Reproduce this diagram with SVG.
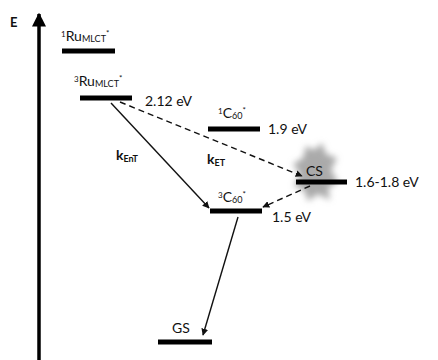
<svg xmlns="http://www.w3.org/2000/svg" width="438" height="360" viewBox="0 0 438 360">
<style>
text{font-family:Lato,"Open Sans","Liberation Sans",sans-serif;fill:#111}
.lbl{font-size:14px}
.val{font-size:14px}
.sub{font-size:9px}
.sup{font-size:8px}
.bar{stroke:#000;stroke-width:5}
.solid{stroke:#111;stroke-width:1.4;fill:none}
.dash{stroke:#111;stroke-width:1.4;fill:none;stroke-dasharray:6 4}
</style>
<defs>
<marker id="ah" viewBox="0 0 10 10" refX="9" refY="5" markerWidth="7" markerHeight="7" markerUnits="userSpaceOnUse" orient="auto"><path d="M0,0 L10,5 L0,10 z" fill="#111"/></marker>
<marker id="axh" viewBox="0 0 10 10" refX="9" refY="5" markerWidth="14" markerHeight="14" markerUnits="userSpaceOnUse" orient="auto"><path d="M0,0 L10,5 L0,10 z" fill="#000"/></marker>
<filter id="blur" x="-50%" y="-50%" width="200%" height="200%"><feGaussianBlur stdDeviation="3"/></filter>
</defs>
<rect width="438" height="360" fill="#fff"/>
<g id="axis">
<line x1="39" y1="360" x2="39" y2="14" stroke="#000" stroke-width="3.5" marker-end="url(#axh)"/>
<text x="10" y="27" style="font-size:13px;font-weight:bold">E</text>
</g>
<g id="blob">
<path d="M306,146 L314,150 L322,143 L326,154 L337,158 L331,170 L338,182 L328,188 L330,200 L318,194 L308,201 L304,190 L294,186 L300,174 L293,164 L303,158 Z" fill="#aaa" filter="url(#blur)"/>
</g>
<g id="connectors">
<line class="solid" x1="111" y1="103" x2="209" y2="208" marker-end="url(#ah)"/>
<line class="dash" x1="120" y1="102" x2="302" y2="176" marker-end="url(#ah)"/>
<line class="dash" x1="310" y1="186" x2="263" y2="207" marker-end="url(#ah)"/>
<line class="solid" x1="238" y1="217" x2="203" y2="335" marker-end="url(#ah)"/>
<text x="116" y="160" class="lbl" style="font-weight:bold">k<tspan class="sub" dy="2">EnT</tspan></text>
<text x="207" y="164" class="lbl" style="font-weight:bold">k<tspan class="sub" dy="2">ET</tspan></text>
</g>
<g id="ru1">
<line class="bar" x1="62" y1="51" x2="115" y2="51"/>
<text x="61" y="41" class="lbl"><tspan class="sup" dy="-4">1</tspan><tspan dy="4">Ru</tspan><tspan class="sub" dy="1">MLCT</tspan><tspan class="sup" dy="-6">*</tspan></text>
</g>
<g id="ru3">
<line class="bar" x1="80" y1="98" x2="132" y2="98"/>
<text x="74" y="86" class="lbl"><tspan class="sup" dy="-4">3</tspan><tspan dy="4">Ru</tspan><tspan class="sub" dy="1">MLCT</tspan><tspan class="sup" dy="-6">*</tspan></text>
<text x="145" y="106" class="val">2.12 eV</text>
</g>
<g id="c60s">
<line class="bar" x1="208" y1="129" x2="260" y2="129"/>
<text x="218" y="118" class="lbl"><tspan class="sup" dy="-4">1</tspan><tspan dy="4">C</tspan><tspan class="sub" dy="1">60</tspan><tspan class="sup" dy="-6">*</tspan></text>
<text x="268" y="134" class="val">1.9 eV</text>
</g>
<g id="cs">
<line class="bar" x1="296" y1="182" x2="347" y2="182"/>
<text x="306" y="176" class="lbl">CS</text>
<text x="355" y="187" class="val">1.6-1.8 eV</text>
</g>
<g id="c60t">
<line class="bar" x1="210" y1="211" x2="262" y2="211"/>
<text x="218" y="202" class="lbl"><tspan class="sup" dy="-4">3</tspan><tspan dy="4">C</tspan><tspan class="sub" dy="1">60</tspan><tspan class="sup" dy="-6">*</tspan></text>
<text x="272" y="222" class="val">1.5 eV</text>
</g>
<g id="gs">
<line class="bar" x1="158" y1="342" x2="212" y2="342"/>
<text x="172" y="333" class="lbl">GS</text>
</g>
</svg>
